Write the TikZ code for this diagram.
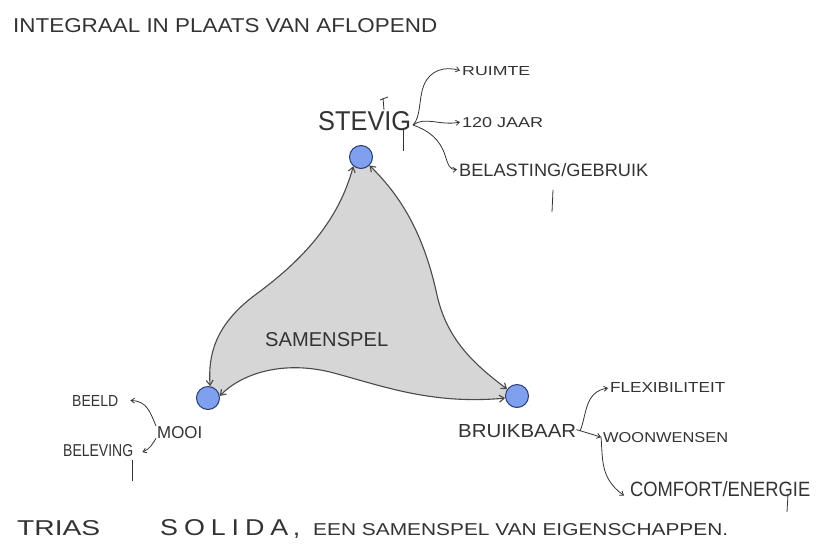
\documentclass[tikz,border=0pt]{standalone}
\usepackage{fontspec}
\setmainfont{Liberation Sans}
\usepackage{graphicx}
\usetikzlibrary{arrows.meta,backgrounds}
\definecolor{ink}{HTML}{333333}
\definecolor{edgec}{HTML}{4A4A4A}
\definecolor{fillc}{HTML}{D6D6D6}
\definecolor{nodefill}{HTML}{7FA0EE}
\definecolor{nodeline}{HTML}{2B3B6E}
\newcommand\hwtext[3]{\resizebox{#1pt}{#2pt}{\fontsize{10}{12}\selectfont #3}}
\begin{document}
\begin{tikzpicture}[x=1pt,y=-1pt,
  lbl/.style={anchor=base west, inner sep=0pt, text=ink},
  vertex/.style={circle, draw=nodeline, line width=1pt, fill=nodefill, minimum size=23pt, inner sep=0pt},
  sideedge/.style={draw=edgec, line width=1.1pt, {Straight Barb[length=5pt,width=7pt]}-{Straight Barb[length=5pt,width=7pt]}},
  pointer/.style={draw=ink, line width=0.8pt, -{Straight Barb[length=3.5pt,width=5pt]}},
  stroke/.style={draw=ink, line width=0.8pt}]
\useasboundingbox (0,0) rectangle (816,544);

% title
\node[lbl] (title) at (13,32) {\hwtext{424}{14}{INTEGRAAL IN PLAATS VAN AFLOPEND}};

% vertices
\node[vertex] (T) at (361,157) {};
\node[vertex] (L) at (208,398) {};
\node[vertex] (R) at (517,396) {};

% shared area
\begin{scope}[on background layer]
\fill[fillc] (T.center) -- (T.-45) .. controls (405,200) and (425,240) .. (437,295)
  .. controls (447,340) and (475,365) .. (R.145) -- (R.center) -- (R.190)
  .. controls (430,405) and (380,385) .. (330,372)
  .. controls (280,360) and (240,375) .. (L.10) -- (L.center) -- (L.80)
  .. controls (208,355) and (215,325) .. (255,295)
  .. controls (310,255) and (340,215) .. (T.230) -- cycle;
\end{scope}

% edges between the vertices
\draw[sideedge] (T.230) .. controls (340,215) and (310,255) .. (255,295)
  .. controls (215,325) and (208,355) .. (L.80);
\draw[sideedge] (T.-45) .. controls (405,200) and (425,240) .. (437,295)
  .. controls (447,340) and (475,365) .. (R.145);
\draw[sideedge] (L.10) .. controls (240,375) and (280,360) .. (330,372)
  .. controls (380,385) and (430,405) .. (R.190);

\node[lbl] (samen) at (265,346) {\hwtext{123}{14}{SAMENSPEL}};

% STEVIG
\node[lbl] (stevig) at (318,130) {\hwtext{93}{19}{STEVIG}};
\node[lbl] (ruimte) at (462,75) {\hwtext{68}{9}{RUIMTE}};
\node[lbl] (jaar) at (462,127) {\hwtext{81}{10}{120 JAAR}};
\node[lbl] (belast) at (459,176) {\hwtext{189}{13}{BELASTING/GEBRUIK}};
\coordinate (sv) at (413,125);
\draw[pointer] (sv) .. controls (421,118) and (419,95) .. (424,85)
  .. controls (430,70) and (445,66) .. ([xshift=-2pt]ruimte.west);
\draw[pointer] (sv) .. controls (425,116) and (440,126) .. ([xshift=-2pt]jaar.west);
\draw[pointer] (sv) .. controls (430,131) and (440,140) .. (445,155)
  .. controls (448,165) and (450,170) .. ([xshift=-2pt]belast.west);
\draw[stroke] (403,130) -- (403,151);
\draw[stroke] (383,98) -- (384,110);
\draw[stroke] (380,100) -- (388,97);
\draw[stroke] (553,190) -- (552,212);

% MOOI
\node[lbl] (mooi) at (157,438) {\hwtext{45}{12}{MOOI}};
\node[lbl] (beeld) at (72,406) {\hwtext{46}{11}{BEELD}};
\node[lbl] (beleving) at (63,456) {\hwtext{70}{12}{BELEVING}};
\draw[pointer] ([xshift=-1pt]mooi.north west) .. controls (150,412) and (147,401) .. ([xshift=12pt]beeld.east);
\draw[pointer] ([xshift=-1pt]mooi.south west) .. controls (153,443) and (150,449) .. ([xshift=9pt,yshift=-2pt]beleving.east);
\draw[stroke] (132,460) -- (132,481);

% BRUIKBAAR
\node[lbl] (bruik) at (458,437) {\hwtext{118}{13}{BRUIKBAAR}};
\node[lbl] (flex) at (610,392) {\hwtext{115}{10}{FLEXIBILITEIT}};
\node[lbl] (woon) at (603,442) {\hwtext{125}{10}{WOONWENSEN}};
\node[lbl] (comf) at (630,496) {\hwtext{180}{15}{COMFORT/ENERGIE}};
\coordinate (bk) at (580,431);
\draw[pointer] (bk) .. controls (587,415) and (584,392) .. ([xshift=-2pt,yshift=-1pt]flex.west);
\draw[pointer] ([yshift=1pt]bruik.east) -- ([xshift=-2pt]woon.west);
\draw[pointer] (601,437) .. controls (603,460) and (600,478) .. ([xshift=-6pt,yshift=-7pt]comf.west);
\draw[stroke] (788,494) -- (787,512);

% caption
\node[lbl] (trias) at (17,535) {\hwtext{83}{15}{TRIAS}};
\node[lbl] (solida) at (160,535) {\hwtext{140}{16}{\addfontfeatures{LetterSpace=22}SOLIDA\,,}};
\node[lbl] (rest) at (313,535) {\hwtext{415}{12}{EEN SAMENSPEL VAN EIGENSCHAPPEN.}};
\end{tikzpicture}
\end{document}
